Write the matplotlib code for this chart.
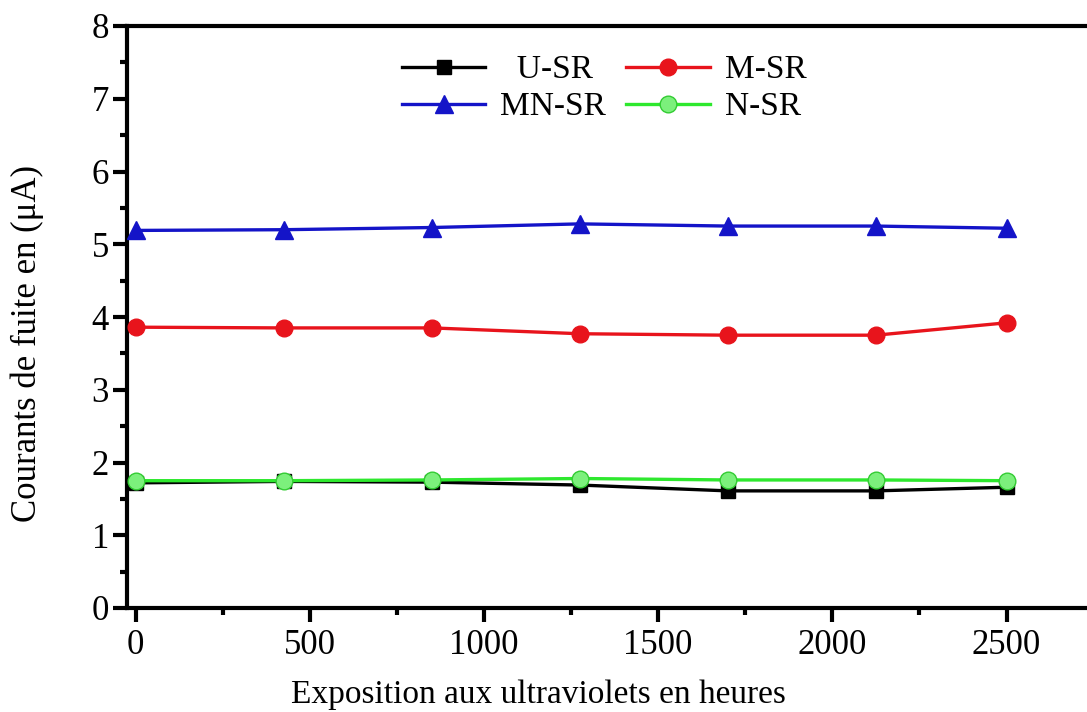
import matplotlib
matplotlib.use("Agg")
import matplotlib.pyplot as plt
from matplotlib.ticker import MultipleLocator

hours = [0, 425, 850, 1275, 1700, 2125, 2500]
u_sr = [1.72, 1.74, 1.73, 1.69, 1.61, 1.61, 1.66]
m_sr = [3.86, 3.85, 3.85, 3.77, 3.75, 3.75, 3.92]
mn_sr = [5.19, 5.20, 5.23, 5.28, 5.25, 5.25, 5.22]
n_sr = [1.75, 1.75, 1.76, 1.78, 1.76, 1.76, 1.75]

plt.rcParams['font.family'] = ['Liberation Serif', 'DejaVu Serif']
plt.rcParams['mathtext.fontset'] = 'stix'

fig = plt.figure(figsize=(10.87, 7.12), dpi=100)
ax = fig.add_axes([127/1087, 1-608/712, (1111-127)/1087, (608-26)/712])

lu, = ax.plot(hours, u_sr, color='black', lw=2.4, marker='s', ms=10, label='  U-SR', zorder=3)
lm, = ax.plot(hours, m_sr, color='#e8141c', lw=2.4, marker='o', ms=12, label='M-SR', zorder=3)
lmn, = ax.plot(hours, mn_sr, color='#1414c8', lw=2.4, marker='^', ms=13, label='MN-SR', zorder=3)
ln, = ax.plot(hours, n_sr, color='#2ee82e', lw=2.4, marker='o', ms=12, mfc='#7cf07c',
              mec='#33cc33', label='N-SR', zorder=4)

ax.set_xlim(-25, 2800)
ax.set_ylim(0, 8)
ax.xaxis.set_major_locator(MultipleLocator(500))
ax.xaxis.set_minor_locator(MultipleLocator(250))
ax.yaxis.set_major_locator(MultipleLocator(1))
ax.yaxis.set_minor_locator(MultipleLocator(0.5))

for s in ['left', 'bottom', 'top', 'right']:
    ax.spines[s].set_linewidth(3)

ax.tick_params(axis='both', which='major', direction='out', length=10, width=3,
               labelsize=25)
ax.tick_params(axis='x', which='major', pad=5)
ax.tick_params(axis='y', which='major', pad=3)
ax.tick_params(axis='both', which='minor', direction='out', length=5, width=3)

ax.set_xlabel('Exposition aux ultraviolets en heures', fontsize=24)
ax.set_ylabel('Courants de fuite en (μA)', fontsize=25)
ax.xaxis.set_label_coords(0.418, -0.122)
ax.yaxis.set_label_coords(-0.084, 0.455)

leg = ax.legend(handles=[lu, lmn, lm, ln], ncol=2, loc='upper center',
                bbox_to_anchor=(0.485, 0.985), frameon=False, fontsize=24,
                handlelength=2.5, columnspacing=0.6, handletextpad=0.45,
                labelspacing=0.2, borderaxespad=0.2)

fig.savefig('out.png', dpi=100)
